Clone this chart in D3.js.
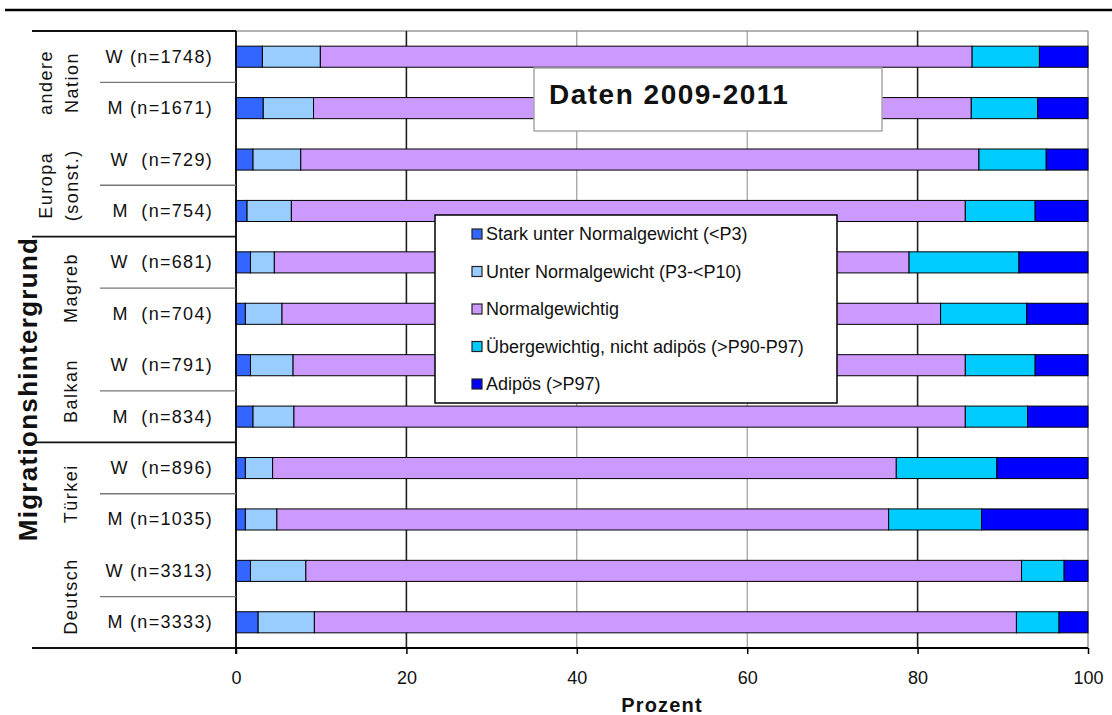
<!DOCTYPE html>
<html>
<head>
<meta charset="utf-8">
<script src="https://cdn.jsdelivr.net/npm/d3@7"></script>
<style>
  body { margin: 0; background: #fff; }
  svg { display: block; }
  text { font-family: "Liberation Sans", Arial, sans-serif; fill: #111; }
</style>
</head>
<body>
<svg id="chart" width="1112" height="715"></svg>
<script>
// Weight categories by migration background and sex (percent of children per row)
const rowLabels = ["W (n=1748)", "M (n=1671)", "W  (n=729)", "M  (n=754)", "W  (n=681)", "M  (n=704)",
                   "W  (n=791)", "M  (n=834)", "W  (n=896)", "M (n=1035)", "W (n=3313)", "M (n=3333)"];
const groupLabels = [["andere", "Nation"], ["Europa", "(sonst.)"], ["Magreb"], ["Balkan"], ["Türkei"], ["Deutsch"]];
const seriesNames = ["Stark unter Normalgewicht (<P3)", "Unter Normalgewicht (P3-<P10)", "Normalgewichtig",
                     "Übergewichtig, nicht adipös (>P90-P97)", "Adipös (>P97)"];
const starkUnter = [3.1, 3.2, 2.0, 1.3, 1.7, 1.1, 1.7, 2.0, 1.1, 1.1, 1.7, 2.6];
const unter      = [6.8, 5.9, 5.6, 5.2, 2.8, 4.3, 5.0, 4.8, 3.2, 3.7, 6.5, 6.6];
const normal     = [76.5, 77.2, 79.6, 79.1, 74.5, 77.3, 78.9, 78.8, 73.2, 71.8, 84.0, 82.4];
const ueber      = [7.9, 7.8, 7.9, 8.2, 12.9, 10.1, 8.2, 7.3, 11.8, 10.9, 5.0, 5.0];
const adipoes    = [5.7, 5.9, 4.9, 6.2, 8.1, 7.2, 6.2, 7.1, 10.7, 12.5, 2.8, 3.4];
const xTicks = [0, 20, 40, 60, 80, 100];
const chartTitle = "Daten 2009-2011";
const xTitle = "Prozent";
const yTitle = "Migrationshintergrund";

const colors = ["#3366ff", "#99ccff", "#cc99ff", "#00ccff", "#0000ff"];
const keys = ["s0", "s1", "s2", "s3", "s4"];
const seriesValues = [starkUnter, unter, normal, ueber, adipoes];

const rows = rowLabels.map((label, i) => {
  const r = { label, idx: i };
  keys.forEach((k, j) => { r[k] = seriesValues[j][i]; });
  return r;
});

const svg = d3.select("#chart");
const plotL = 236, plotR = 1088, plotT = 31, plotB = 648;

const x = d3.scaleLinear().domain([0, 100]).range([plotL, plotR]);
const y = d3.scaleBand().domain(d3.range(rowLabels.length)).range([plotT, plotB])
  .paddingInner(0.59).paddingOuter(0.295);
const step = (plotB - plotT) / rowLabels.length;

// rule across the top of the figure
svg.append("line").attr("x1", 5).attr("x2", 1112).attr("y1", 10).attr("y2", 10)
  .attr("stroke", "#000").attr("stroke-width", 2.5);

// plot frame (top and right)
svg.append("line").attr("x1", 32).attr("x2", plotR).attr("y1", plotT).attr("y2", plotT)
  .attr("stroke", "#999").attr("stroke-width", 1.5);
svg.append("line").attr("x1", plotR).attr("x2", plotR).attr("y1", plotT).attr("y2", plotB)
  .attr("stroke", "#999").attr("stroke-width", 1.5);

// vertical gridlines
const strongGrid = [20, 80];
svg.append("g").selectAll("line").data(xTicks.filter(v => v > 0 && v < 100)).join("line")
  .attr("x1", d => x(d)).attr("x2", d => x(d)).attr("y1", plotT).attr("y2", plotB)
  .attr("stroke", d => strongGrid.includes(d) ? "#222" : "#888")
  .attr("stroke-width", d => strongGrid.includes(d) ? 1.6 : 1);

// stacked bars
const stacked = d3.stack().keys(keys)(rows);
svg.append("g").selectAll("g").data(stacked).join("g")
  .attr("fill", (d, i) => colors[i])
  .selectAll("rect").data(d => d).join("rect")
  .attr("x", d => x(d[0]))
  .attr("width", d => x(d[1]) - x(d[0]))
  .attr("y", d => y(d.data.idx))
  .attr("height", y.bandwidth())
  .attr("stroke", "#000").attr("stroke-width", 1);

// x axis
const xAxis = svg.append("g").attr("transform", `translate(0,${plotB})`)
  .call(d3.axisBottom(x).tickValues(xTicks).tickSize(6).tickPadding(17).tickSizeOuter(0));
xAxis.select(".domain").remove();
xAxis.selectAll(".tick line").attr("stroke", "#000").attr("stroke-width", 1.5);
xAxis.selectAll(".tick text").attr("font-size", 18).attr("fill", "#222")
  .style("font-family", '"Liberation Sans", Arial, sans-serif');

svg.append("line").attr("x1", 32).attr("x2", plotR).attr("y1", plotB).attr("y2", plotB)
  .attr("stroke", "#000").attr("stroke-width", 1.8);
svg.append("line").attr("x1", plotL).attr("x2", plotL).attr("y1", plotT).attr("y2", plotB + 6)
  .attr("stroke", "#000").attr("stroke-width", 1.8);

// category separators in the label area
svg.append("g").selectAll("line").data(d3.range(rowLabels.length + 1).filter(i => i % 4 === 0 || i % 2 === 1))
  .join("line")
  .attr("x1", i => i % 4 === 0 ? 32 : 100).attr("x2", plotL)
  .attr("y1", i => plotT + i * step).attr("y2", i => plotT + i * step)
  .attr("stroke", i => i % 4 === 0 ? "#111" : "#777")
  .attr("stroke-width", i => i % 4 === 0 ? 1.8 : 1.3);

// row labels
svg.append("g").selectAll("text").data(rows).join("text")
  .attr("x", 213).attr("y", d => y(d.idx) + y.bandwidth() / 2)
  .attr("text-anchor", "end").attr("dominant-baseline", "central")
  .attr("font-size", 18).style("letter-spacing", "1.3px").style("white-space", "pre")
  .attr("fill", "#222")
  .text(d => d.label);

// group labels (rotated)
const grp = svg.append("g");
groupLabels.forEach((lines, k) => {
  const cy = plotT + (2 * k + 1) * step;
  lines.forEach((ln, j) => {
    const cx = lines.length === 2 ? (j === 0 ? 46 : 72) : 71;
    grp.append("text")
      .attr("transform", `translate(${cx},${cy}) rotate(-90)`)
      .attr("text-anchor", "middle").attr("dominant-baseline", "central")
      .attr("font-size", 18).style("letter-spacing", "1.5px").attr("fill", "#222")
      .text(ln);
  });
});

// y title
svg.append("text")
  .attr("transform", `translate(28,${(236 + 542) / 2}) rotate(-90)`)
  .attr("text-anchor", "middle").attr("dominant-baseline", "central")
  .attr("font-size", 26).attr("font-weight", "bold").style("letter-spacing", "1.3px")
  .attr("fill", "#000")
  .text(yTitle);

// x title
svg.append("text")
  .attr("x", x(50)).attr("y", 712).attr("text-anchor", "middle")
  .attr("font-size", 20).attr("font-weight", "bold").style("letter-spacing", "1.2px")
  .attr("fill", "#111")
  .text(xTitle);

// title box
svg.append("rect").attr("x", 534).attr("y", 68).attr("width", 348).attr("height", 63)
  .attr("fill", "#fff").attr("stroke", "#a8a8a8").attr("stroke-width", 1.5);
svg.append("text").attr("x", 549).attr("y", 104)
  .attr("font-size", 28).attr("font-weight", "bold").style("letter-spacing", "1.5px")
  .attr("fill", "#000")
  .text(chartTitle);

// legend
const lg = svg.append("g");
lg.append("rect").attr("x", 435).attr("y", 215).attr("width", 402).attr("height", 188)
  .attr("fill", "#fff").attr("stroke", "#000").attr("stroke-width", 1.5);
const items = lg.selectAll("g.item").data(seriesNames).join("g").attr("class", "item")
  .attr("transform", (d, i) => `translate(472,${234 + i * 37.5})`);
items.append("rect").attr("x", 0).attr("y", -5).attr("width", 10).attr("height", 10)
  .attr("fill", (d, i) => colors[i]).attr("stroke", "#222").attr("stroke-width", 1.2);
items.append("text").attr("x", 14).attr("y", 0).attr("dominant-baseline", "central")
  .attr("font-size", 18).attr("fill", "#222")
  .text(d => d);
</script>
</body>
</html>
